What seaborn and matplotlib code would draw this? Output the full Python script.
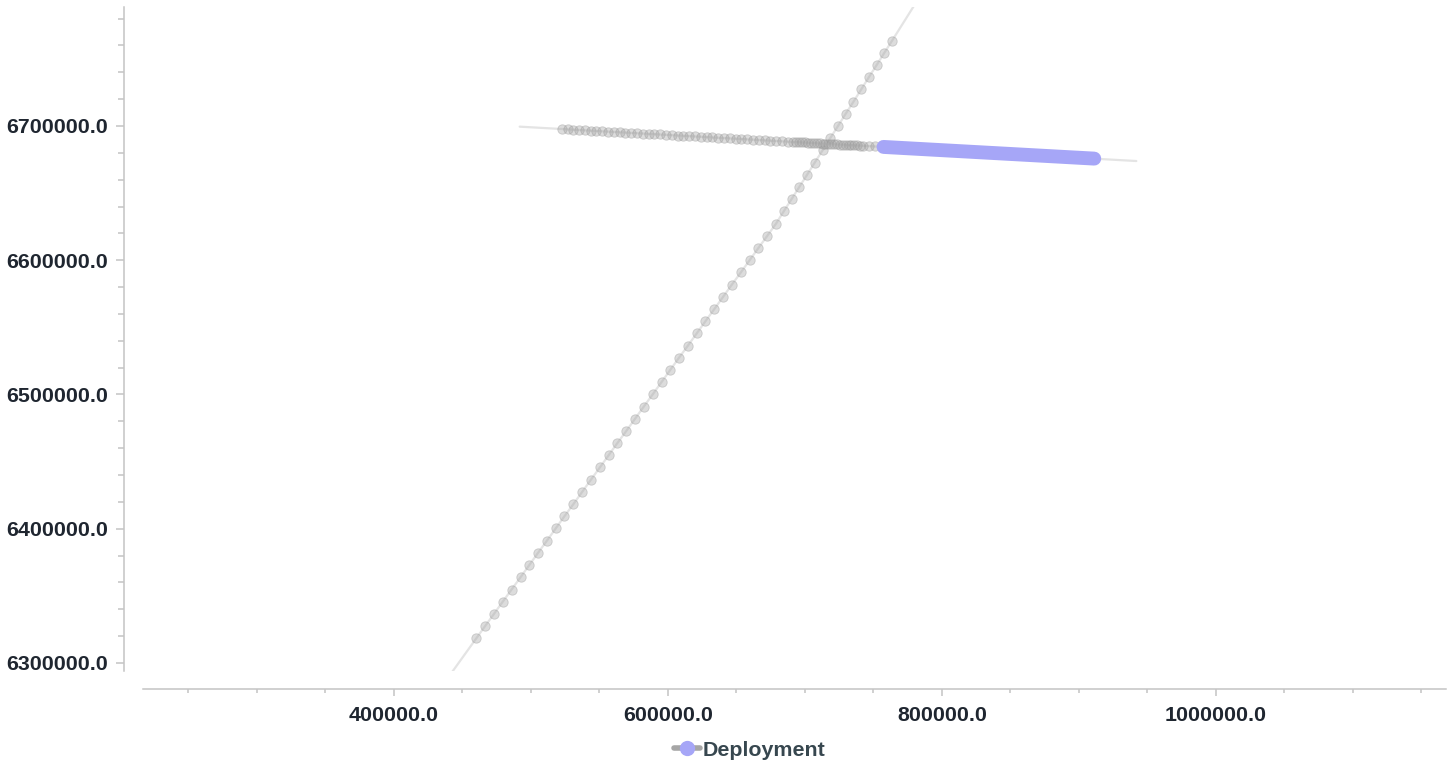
import matplotlib
matplotlib.use('Agg')
import matplotlib.pyplot as plt
import seaborn as sns
from matplotlib.lines import Line2D
from matplotlib.ticker import MultipleLocator, FormatStrFormatter

#######################
#
# DATA (easting / northing)
#
#######################
# diagonal survey line: end points of the track
diag_line_x = [442500, 780000]
diag_line_y = [6293100, 6790100]

# diagonal survey line: station markers
diag_pts_x = [460300, 466700, 473200, 479600, 486000, 492500, 498900, 505300, 511800, 518200,
              524600, 531100, 537500, 543900, 550400, 556800, 563200, 569700, 576100, 582500,
              589000, 595400, 601800, 608200, 614700, 621100, 627500, 634000, 640400, 646800,
              653300, 659700, 666100, 672600, 679000, 684600, 690300, 695900, 701600, 707200,
              712900, 718500, 724200, 729800, 735500, 741100, 746700, 752400, 758000, 763700]
diag_pts_y = [6318400, 6327500, 6336600, 6345700, 6354700, 6363800, 6372900, 6382000, 6391100, 6400200,
              6409300, 6418300, 6427400, 6436500, 6445600, 6454700, 6463800, 6472800, 6481900, 6491000,
              6500100, 6509200, 6518300, 6527400, 6536400, 6545500, 6554600, 6563700, 6572800, 6581900,
              6590900, 6600000, 6609100, 6618200, 6627300, 6636400, 6645500, 6654500, 6663600, 6672700,
              6681800, 6690900, 6700000, 6709100, 6718100, 6727200, 6736300, 6745400, 6754500, 6763600]

# near-horizontal survey line: end points of the track
horiz_line_x = [491900, 941900]
horiz_line_y = [6699500, 6673900]

# near-horizontal survey line: station markers
horiz_pts_x = [522500, 526800, 531000, 535200, 539400, 543700, 547900, 552100, 556400, 560600,
               564800, 569100, 573300, 577500, 581700, 586000, 590200, 594400, 598700, 602900,
               607100, 611400, 615600, 619800, 624000, 628300, 632500, 636700, 641000, 645200,
               649400, 653700, 657900, 662100, 666300, 670600, 674800, 679000, 683300, 687500,
               691700, 696000, 700200, 704400, 708600, 712900, 717100, 721300, 725600, 729800,
               734000, 738300, 742500, 746700, 750900,
               # second pass over the same stretch
               693800, 698100, 702300, 706500, 710800, 715000, 719200, 723400, 727700, 731900,
               736100, 740400]
horiz_pts_y = [6697700, 6697500, 6697300, 6697000, 6696800, 6696500, 6696300, 6696100, 6695800, 6695600,
               6695300, 6695100, 6694900, 6694600, 6694400, 6694100, 6693900, 6693700, 6693400, 6693200,
               6692900, 6692700, 6692500, 6692200, 6692000, 6691700, 6691500, 6691300, 6691000, 6690800,
               6690500, 6690300, 6690100, 6689800, 6689600, 6689300, 6689100, 6688900, 6688600, 6688400,
               6688100, 6687900, 6687700, 6687400, 6687200, 6686900, 6686700, 6686500, 6686200, 6686000,
               6685700, 6685500, 6685300, 6685000, 6684800,
               6688000, 6687800, 6687500, 6687300, 6687100, 6686800, 6686600, 6686300, 6686100, 6685900,
               6685600, 6685400]

# deployed stretch
deploy_x = [757400, 911200]
deploy_y = [6684400, 6675700]

LEGEND_LABEL = 'Deployment'

#######################
#
# STYLE
#
#######################
TRACK_COLOR = '#e4e4e4'
STATION_COLOR = '#a4a4a4'
DEPLOY_COLOR = '#a6a6f7'
AXIS_COLOR = '#c4c4c4'
LABEL_COLOR = '#1f2630'

sns.set_theme(style='ticks')
plt.rcParams['font.family'] = ['Liberation Sans', 'DejaVu Sans']
plt.rcParams['font.weight'] = 'bold'

fig = plt.figure(figsize=(14.53, 7.63), dpi=100)
ax = fig.add_axes([0.0984, 0.1206, 0.8968, 0.8698])

# tracks
sns.lineplot(x=diag_line_x[:1] + diag_pts_x + diag_line_x[1:],
             y=diag_line_y[:1] + diag_pts_y + diag_line_y[1:],
             sort=False, estimator=None, color=TRACK_COLOR, linewidth=1.6, ax=ax, zorder=1)
sns.lineplot(x=horiz_line_x, y=horiz_line_y, sort=False, estimator=None,
             color=TRACK_COLOR, linewidth=1.6, ax=ax, zorder=1)

# stations
for xs, ys in [(diag_pts_x, diag_pts_y), (horiz_pts_x, horiz_pts_y)]:
    sns.scatterplot(x=xs, y=ys, s=46, color=STATION_COLOR, alpha=0.38,
                    edgecolor='#8e8e8e', linewidth=0.6, ax=ax, zorder=2)

# deployed part
sns.lineplot(x=deploy_x, y=deploy_y, sort=False, estimator=None, color=DEPLOY_COLOR,
             linewidth=10, solid_capstyle='round', ax=ax, zorder=3)

ax.set_xlim(217000, 1167900)
ax.set_ylim(6294000, 6788400)
ax.set_xlabel('')
ax.set_ylabel('')

ax.xaxis.set_major_locator(MultipleLocator(200000))
ax.xaxis.set_minor_locator(MultipleLocator(50000))
ax.yaxis.set_major_locator(MultipleLocator(100000))
ax.yaxis.set_minor_locator(MultipleLocator(20000))
ax.xaxis.set_major_formatter(FormatStrFormatter('%.1f'))
ax.yaxis.set_major_formatter(FormatStrFormatter('%.1f'))

sns.despine(ax=ax, offset={'left': 14, 'bottom': 13})
for side in ['left', 'bottom']:
    ax.spines[side].set_color(AXIS_COLOR)
    ax.spines[side].set_linewidth(1.1)

ax.tick_params(axis='both', which='both', color=AXIS_COLOR, width=1.1,
               labelcolor=LABEL_COLOR, labelsize=15.4)
ax.tick_params(axis='x', which='major', length=5, pad=7.5)
ax.tick_params(axis='x', which='minor', length=3)
ax.tick_params(axis='y', which='major', length=6, pad=5)
ax.tick_params(axis='y', which='minor', length=4)

handle = Line2D([], [], color='#a6a6a6', linewidth=4, marker='o', markersize=11,
                markerfacecolor=DEPLOY_COLOR, markeredgewidth=0)
fig.legend(handles=[handle], labels=[LEGEND_LABEL], loc='center',
           bbox_to_anchor=(0.516, 0.017), frameon=False, handlelength=1.2,
           handletextpad=0.15, prop={'weight': 'bold', 'size': 15.4},
           labelcolor='#37474f')

fig.savefig('out.png', dpi=100)
